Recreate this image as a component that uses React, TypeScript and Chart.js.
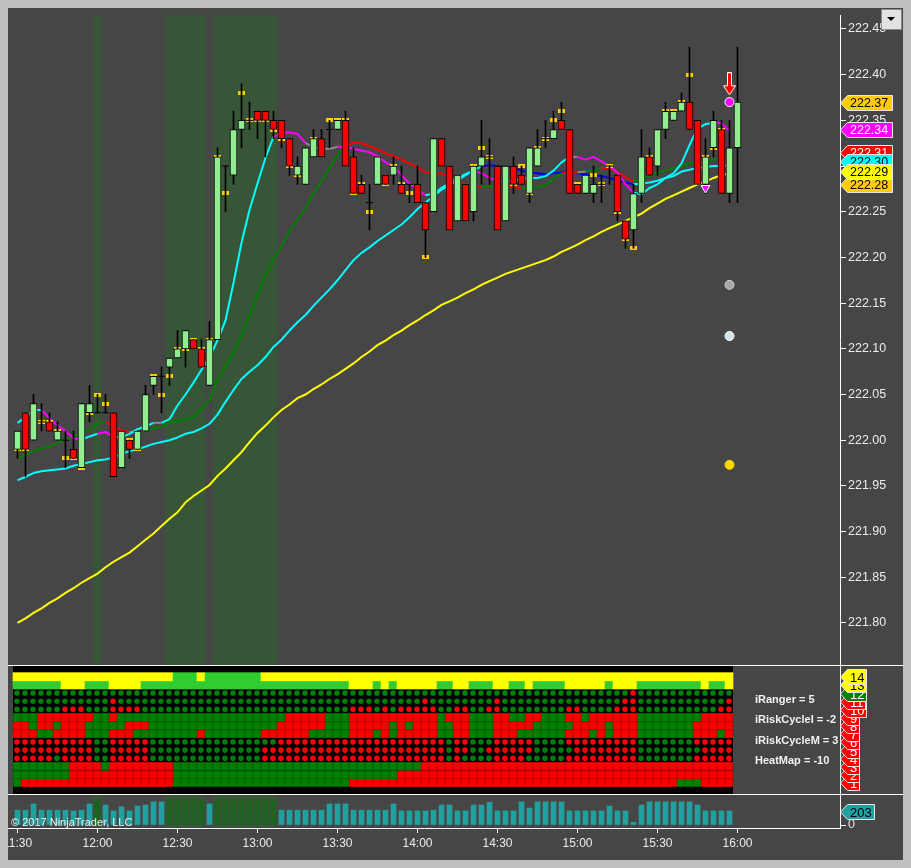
import React, { useEffect, useRef } from 'react';
import { Chart, registerables } from 'chart.js';

Chart.register(...registerables);

const FONT_FAMILY = '"Liberation Sans", Arial, Helvetica, sans-serif';
const TEXT_COLOR = '#ececec';

// ---------------- data: 3-minute candles (bar index 0 = 11:30) ----------------
const OPEN = [221.99,222.03,222.00,222.02,222.02,222.00,222.00,221.99,221.97,222.03,
 222.03,222.03,222.03,221.97,222.00,221.99,222.01,222.06,222.07,222.08,
 222.09,222.10,222.11,222.10,222.06,222.11,222.30,222.29,222.34,222.35,
 222.36,222.36,222.35,222.35,222.33,222.29,222.28,222.31,222.33,222.34,
 222.34,222.35,222.31,222.28,222.26,222.28,222.29,222.29,222.28,222.28,
 222.28,222.26,222.25,222.33,222.30,222.24,222.28,222.25,222.30,222.31,
 222.30,222.24,222.30,222.29,222.27,222.30,222.33,222.33,222.35,222.34,
 222.28,222.27,222.27,222.28,222.30,222.29,222.24,222.23,222.27,222.31,
 222.30,222.34,222.35,222.36,222.37,222.35,222.28,222.32,222.34,222.27,
 222.32];
const HIGH = [222.01,222.03,222.05,222.04,222.03,222.02,222.01,222.01,222.04,222.06,
 222.05,222.05,222.03,222.01,222.00,222.01,222.06,222.07,222.08,222.09,
 222.12,222.12,222.11,222.11,222.13,222.32,222.30,222.36,222.39,222.37,
 222.36,222.36,222.36,222.35,222.33,222.31,222.32,222.34,222.34,222.35,
 222.35,222.36,222.32,222.29,222.28,222.31,222.29,222.31,222.30,222.28,
 222.30,222.26,222.33,222.33,222.30,222.29,222.28,222.30,222.35,222.33,
 222.30,222.30,222.31,222.30,222.32,222.34,222.35,222.36,222.37,222.34,
 222.28,222.29,222.30,222.29,222.30,222.29,222.24,222.28,222.34,222.32,
 222.34,222.37,222.36,222.38,222.43,222.35,222.33,222.36,222.35,222.35,
 222.43];
const LOW = [221.98,221.96,222.00,222.01,222.01,222.00,221.97,221.98,221.97,222.02,
 222.03,222.03,221.96,221.97,221.98,221.99,222.01,222.05,222.03,222.06,
 222.09,222.08,222.10,222.08,222.06,222.11,222.25,222.28,222.32,222.34,
 222.33,222.31,222.33,222.32,222.29,222.28,222.28,222.31,222.31,222.32,
 222.34,222.30,222.27,222.27,222.23,222.28,222.28,222.28,222.27,222.26,
 222.26,222.20,222.25,222.30,222.23,222.24,222.24,222.24,222.28,222.28,
 222.23,222.24,222.27,222.28,222.26,222.30,222.32,222.33,222.34,222.27,
 222.27,222.27,222.26,222.26,222.28,222.24,222.21,222.21,222.26,222.29,
 222.29,222.33,222.35,222.36,222.34,222.28,222.27,222.31,222.27,222.26,
 222.26];
const CLOSE = [222.01,221.99,222.04,222.02,222.01,222.01,222.00,221.98,222.04,222.04,
 222.03,222.03,221.96,222.01,221.99,222.01,222.05,222.07,222.07,222.09,
 222.10,222.12,222.10,222.08,222.11,222.31,222.30,222.34,222.35,222.35,
 222.35,222.35,222.34,222.33,222.30,222.30,222.32,222.33,222.31,222.34,
 222.35,222.30,222.27,222.27,222.26,222.31,222.28,222.30,222.27,222.28,
 222.26,222.23,222.33,222.30,222.23,222.29,222.24,222.30,222.31,222.31,
 222.23,222.30,222.28,222.28,222.32,222.32,222.33,222.34,222.34,222.27,
 222.27,222.29,222.28,222.28,222.30,222.25,222.22,222.27,222.31,222.29,
 222.34,222.36,222.36,222.37,222.34,222.28,222.31,222.35,222.27,222.32,
 222.37];
// gold level markers per bar (null = none)
const GOLD_MARK = [221.99,221.99,null,222.02,222.02,222.01,221.98,221.98,221.97,222.03,
 222.05,222.04,null,null,222.00,221.99,null,222.07,222.05,222.07,
 222.10,222.10,222.11,222.10,222.11,222.31,222.27,null,222.38,222.35,
 222.35,222.35,222.34,222.33,222.30,222.29,null,222.33,null,222.35,
 222.35,222.35,222.27,222.28,222.25,null,222.28,222.30,222.28,222.27,
 null,222.20,null,null,null,null,null,222.30,222.32,222.31,
 null,null,222.28,222.30,222.27,222.32,222.33,222.35,222.36,null,
 222.28,null,222.29,222.28,222.30,222.25,222.22,222.21,null,222.31,
 null,222.36,222.36,222.37,222.40,null,222.31,222.32,222.34,null,
 null];

// indicator lines (bars 0..89)
const FAST = [222.019,222.025,222.033,222.033,222.024,222.016,222.010,222.002,222.001,222.004,
 222.007,222.009,222.004,222.003,222.007,222.012,222.015,222.019,222.019,222.023,
 222.038,222.050,222.063,222.077,222.091,222.109,222.131,222.172,222.216,222.252,
 222.281,222.309,222.332,222.336,222.337,222.335,222.325,222.321,222.319,222.319,
 222.321,222.321,222.319,222.317,222.315,222.311,222.304,222.300,222.290,222.281,
 222.274,222.268,222.270,222.276,222.281,222.287,222.291,222.295,222.292,222.287,
 222.284,222.283,222.284,222.286,222.287,222.287,222.289,222.295,222.304,222.310,
 222.310,222.307,222.310,222.305,222.300,222.293,222.280,222.271,222.269,222.276,
 222.280,222.287,222.292,222.303,222.323,222.341,222.346,222.347,222.347,222.338];
const FAST_STATE = 'c4 m5 c2 m2 c5 n1 c14 m4 n4 m11 c6 m5 c7 n1 m7 c10 m2';
const MID = [221.980,221.984,221.988,221.991,221.993,221.997,222.000,222.004,222.007,222.012,
 222.018,222.020,222.015,222.011,222.009,222.008,222.010,222.013,222.015,222.019,
 222.021,222.023,222.025,222.034,222.044,222.066,222.081,222.095,222.115,222.137,
 222.159,222.181,222.198,222.212,222.229,222.242,222.254,222.270,222.283,222.298,
 222.312,222.321,222.326,222.325,222.322,222.318,222.314,222.311,222.307,222.303,
 222.299,222.293,222.292,222.292,222.288,222.283,222.280,222.278,222.277,222.278,
 222.277,222.277,222.277,222.276,222.276,222.277,222.279,222.286,222.292,222.293,
 222.293,222.294,222.295,222.298,222.298,222.293,222.288,222.283,222.287,222.290,
 222.293,222.295,222.298,222.300,222.303,222.304,222.306,222.307,222.309,222.310];
const MID_STATE = 'g12 r3 n1 g26 r17 g2 r3 g5 r2 n1 g2 r4 g12';
const SLOW = [221.956,221.960,221.964,221.966,221.967,221.968,221.969,221.972,221.974,221.976,
 221.978,221.979,221.981,221.985,221.988,221.990,221.993,221.996,221.998,222.000,
 222.003,222.007,222.009,222.013,222.018,222.028,222.042,222.055,222.067,222.075,
 222.082,222.091,222.102,222.110,222.120,222.129,222.137,222.147,222.156,222.165,
 222.175,222.186,222.197,222.205,222.211,222.218,222.224,222.230,222.236,222.244,
 222.253,222.260,222.267,222.274,222.279,222.284,222.290,222.295,222.300,222.301,
 222.300,222.299,222.298,222.295,222.293,222.292,222.291,222.292,222.293,222.293,
 222.292,222.291,222.290,222.289,222.287,222.284,222.282,222.280,222.281,222.282,
 222.284,222.287,222.289,222.294,222.296,222.298,222.299,222.300,222.300,222.301];
const SLOW_STATE = 'c59 b19 c12';
const YELLOW = [221.800,221.805,221.811,221.816,221.822,221.827,221.833,221.838,221.844,221.849,
 221.854,221.861,221.867,221.872,221.877,221.884,221.891,221.898,221.906,221.914,
 221.921,221.932,221.939,221.945,221.951,221.961,221.969,221.978,221.987,221.998,
 222.008,222.016,222.025,222.033,222.039,222.046,222.050,222.056,222.061,222.067,
 222.072,222.078,222.084,222.091,222.097,222.104,222.109,222.115,222.120,222.126,
 222.131,222.137,222.142,222.148,222.152,222.156,222.161,222.165,222.170,222.174,
 222.178,222.182,222.185,222.188,222.191,222.194,222.197,222.201,222.206,222.210,
 222.214,222.219,222.223,222.228,222.232,222.236,222.240,222.244,222.248,222.254,
 222.259,222.264,222.268,222.272,222.276,222.280,222.283,222.287,222.290,222.292];

// signals
const SIGNAL_BAR = 89;
const SIGNAL_DOTS = [222.37, 222.17, 222.114, 221.973];
const ARROW_BAR = 89;
const ARROW_VALUE = 222.39;
const TRIANGLE_BAR = 86;
const TRIANGLE_VALUE = 222.276;

// highlighted bars (green background bands)
const BAND_BARS = [10, 19, 20, 21, 22, 23, 25, 26, 27, 28, 29, 30, 31, 32];

// axes
const PRICE_TICKS = [222.45,222.40,222.35,222.30,222.25,222.20,222.15,222.10,222.05,222.00,221.95,221.90,221.85,221.80];
const TIME_TICKS = [0, 10, 20, 30, 40, 50, 60, 70, 80, 90];
const TIME_LABELS = ['11:30','12:00','12:30','13:00','13:30','14:00','14:30','15:00','15:30','16:00'];

// price-axis markers
const TAG_VALUES = [222.31, 222.30, 222.28, 222.29, 222.37, 222.34];

// heat map rows (14 at top .. 1 at bottom), run-length: letter + count
const HEAT_14 = 'Y20 G3 Y1 G7 Y59';
const HEAT_13 = 'G6 Y3 G3 Y4 G26 Y3 G1 Y1 G1 Y5 G2 Y2 G3 Y2 G2 Y1 G4 Y5 G1 Y3 G8 Y1 G2 Y1';
const HEAT_12 = 'g77 r1 g12';
const HEAT_11 = 'g12 r1 g38 r1 g8 r1 g15 r2 g11 r1';
const HEAT_10 = 'g6 r3 g3 r4 g26 r3 g1 r1 g1 r5 g2 r2 g2 r2 g8 r2 g4 r3 g10 r2';
const HEAT_9 = 'g3 r7 g2 r1 g21 r5 g3 r11 g1 r3 g3 r2 g2 r2 g3 r2 g1 r6 g8 r4';
const HEAT_8 = 'r2 g1 r2 g1 r3 g5 r3 g16 r6 g3 r5 g1 r1 g1 r3 g2 r2 g3 r5 g5 r4 g1 r3 g7 r5';
const HEAT_7 = 'r3 g2 r4 g3 r3 g8 r1 g7 r6 g5 r3 g1 r1 g1 r5 g2 r2 g3 r3 g6 r3 g1 r1 g1 r3 g7 r3 g1 r1';
const HEAT_6 = 'r10 g2 r5 g16 r21 g1 r2 g3 r5 g4 r9 g7 r5';
const HEAT_5 = 'r10 g2 r5 g14 r23 g1 r2 g2 r6 g5 r8 g8 r4';
const HEAT_4 = 'r5 g1 r4 g2 r5 g14 r23 g1 r1 g4 r4 g5 r9 g7 r5';
const HEAT_3 = 'g7 r4 g1 r8 g31 r39';
const HEAT_2 = 'g7 r13 g28 r42';
const HEAT_1 = 'g1 r19 g22 r41 g3 r4';
const HEAT_LABELS = ['iRanger = 5', 'iRiskCycleI = -2', 'iRiskCycleM = 3', 'HeatMap = -10'];

// volume (bars 0..89)
const VOLUME = [215,215,305,215,215,215,215,203,215,305,
 360,290,203,265,203,275,290,335,335,350,
 350,350,350,350,305,350,350,350,350,350,
 350,350,350,215,215,215,215,215,215,305,
 305,305,215,215,215,215,215,305,203,203,
 203,203,215,290,290,203,203,290,290,330,
 203,203,203,335,245,335,335,335,335,203,
 203,203,203,203,275,203,203,40,290,335,
 335,335,335,335,335,290,203,203,203,203];

const COPYRIGHT = '\u00A9 2017 NinjaTrader, LLC';

// ---------------- styles ----------------
const BAND_COLOR = '#375637';
const UP_FILL = '#90ee90';
const DOWN_FILL = '#ff0000';
const FAST_PALETTE: Record<string, string> = { c: '#00ffff', m: '#ff00ff', n: '#8a8a8a' };
const MID_PALETTE: Record<string, string> = { g: '#008000', r: '#ff0000', n: '#8a8a8a' };
const SLOW_PALETTE: Record<string, string> = { c: '#00ffff', b: '#0000ff' };
const HEAT_FILL: Record<string, string> = { Y: '#ffff00', G: '#32cd32', g: '#008000', r: '#ff0000' };
const HEAT_EDGE: Record<string, string> = { Y: '#ffff00', G: '#32cd32', g: '#006400', r: '#c80000' };
const TAG_STYLES = [
  { bg: '#ff0000', fg: '#ffffff', dy: -4 },
  { bg: '#00ffff', fg: '#000000', dy: -5 },
  { bg: '#ffcc00', fg: '#000000', dy: 0 },
  { bg: '#ffff00', fg: '#000000', dy: -4 },
  { bg: '#ffcc00', fg: '#000000', dy: 0 },
  { bg: '#ff00ff', fg: '#ffffff', dy: 0 },
];
const DOT_FILL = ['#ff00ff', '#a8a8a8', '#cfe4ec', '#ffd700'];
const DOT_EDGE = ['#ffffff', '#d0d0d0', '#ffffff', '#ffd700'];

const PRICE_MIN = 221.754;
const PRICE_MAX = 222.4653;
const X_MIN_BARS = -1.1875;
const X_MAX_BARS = 102.8125;
const HEAT_X_MIN = -1.125;
const HEAT_X_MAX = 102.875;
const HEAT_Y_MIN = -0.3865;
const HEAT_Y_MAX = 15.319;
const VOL_Y_MIN = -43.5;
const VOL_Y_MAX = 435;

function runs(spec: string): string[] {
  const out: string[] = [];
  spec.trim().split(/\s+/).forEach((tok) => {
    const c = tok[0];
    const n = parseInt(tok.slice(1), 10);
    for (let k = 0; k < n; k++) out.push(c);
  });
  return out;
}

function noPad(s: any) {
  s.paddingLeft = 0;
  s.paddingRight = 0;
  s.paddingTop = 0;
  s.paddingBottom = 0;
}

function drawTag(ctx: CanvasRenderingContext2D, x: number, y: number, text: string, bg: string, fg: string, fontSize: number, pad: number) {
  ctx.save();
  ctx.font = `${fontSize}px ${FONT_FAMILY}`;
  const tw = ctx.measureText(text).width;
  const w = Math.round(tw + pad);
  const h = 15;
  const top = Math.round(y - h / 2) + 0.5;
  const bot = top + h;
  const mid = (top + bot) / 2;
  ctx.beginPath();
  ctx.moveTo(x + 0.5, mid);
  ctx.lineTo(x + 7.5, top);
  ctx.lineTo(x + w + 0.5, top);
  ctx.lineTo(x + w + 0.5, bot);
  ctx.lineTo(x + 7.5, bot);
  ctx.closePath();
  ctx.fillStyle = bg;
  ctx.fill();
  ctx.strokeStyle = '#e6e6e6';
  ctx.lineWidth = 1;
  ctx.stroke();
  ctx.fillStyle = fg;
  ctx.textAlign = 'left';
  ctx.textBaseline = 'middle';
  ctx.fillText(text, x + 10, mid + 1);
  ctx.restore();
}

function bandPlugin(bottomOffset: (chart: any) => number) {
  return {
    id: 'bands',
    beforeDatasetsDraw(chart: any) {
      const { ctx, chartArea, scales } = chart;
      const x = scales.x;
      ctx.save();
      ctx.fillStyle = BAND_COLOR;
      const bottom = bottomOffset(chart);
      BAND_BARS.forEach((i) => {
        const l = Math.floor(x.getPixelForValue(i - 0.5));
        const r = Math.floor(x.getPixelForValue(i + 0.5));
        ctx.fillRect(l, chartArea.top, r - l, bottom - chartArea.top);
      });
      ctx.restore();
    },
  };
}

function makeGoldMark() {
  const c = document.createElement('canvas');
  c.width = 7;
  c.height = 4;
  const g = c.getContext('2d')!;
  g.fillStyle = '#ffcc00';
  g.fillRect(0, 0, 7, 4);
  return c;
}

function makeArrow() {
  const c = document.createElement('canvas');
  c.width = 13;
  c.height = 23;
  const g = c.getContext('2d')!;
  g.beginPath();
  g.moveTo(4.5, 0.5);
  g.lineTo(8.5, 0.5);
  g.lineTo(8.5, 13.5);
  g.lineTo(12.5, 13.5);
  g.lineTo(6.5, 22.5);
  g.lineTo(0.5, 13.5);
  g.lineTo(4.5, 13.5);
  g.closePath();
  g.fillStyle = '#ff0000';
  g.fill();
  g.strokeStyle = '#ffffff';
  g.lineWidth = 1;
  g.stroke();
  return c;
}

function lineDataset(values: number[], state: string, palette: Record<string, string>, order: number) {
  const cols = runs(state);
  return {
    type: 'line',
    data: values.map((v, i) => ({ x: i, y: v })),
    borderColor: palette[cols[0]],
    borderWidth: 2,
    pointRadius: 0,
    tension: 0,
    fill: false,
    borderJoinStyle: 'round',
    order,
    segment: { borderColor: (ctx: any) => palette[cols[ctx.p1DataIndex]] },
  };
}

const baseOptions = () => ({
  responsive: false,
  maintainAspectRatio: false,
  animation: false,
  events: [],
  plugins: { legend: { display: false }, tooltip: { enabled: false } },
});

function priceConfig(): any {
  const wicks: any[] = [];
  const bodies: any[] = [];
  const bodyFill: string[] = [];
  const dojis: any[] = [];
  OPEN.forEach((o, i) => {
    const c = CLOSE[i];
    wicks.push({ x: i, y: [LOW[i], HIGH[i]] });
    if (Math.abs(o - c) < 1e-9) dojis.push({ x: i, y: o });
    else {
      bodies.push({ x: i, y: [Math.min(o, c), Math.max(o, c)] });
      bodyFill.push(c > o ? UP_FILL : DOWN_FILL);
    }
  });
  const marks: any[] = [];
  GOLD_MARK.forEach((v, i) => { if (v !== null) marks.push({ x: i, y: v }); });
  const gold = makeGoldMark();
  const arrow = makeArrow();

  return {
    type: 'bar',
    data: {
      datasets: [
        {
          type: 'scatter', order: 0,
          data: SIGNAL_DOTS.map((v) => ({ x: SIGNAL_BAR, y: v })),
          pointRadius: 4.5, pointBackgroundColor: DOT_FILL, pointBorderColor: DOT_EDGE, pointBorderWidth: 1,
        },
        {
          type: 'scatter', order: 0,
          data: [{ x: ARROW_BAR, y: ARROW_VALUE }],
          pointStyle: arrow, pointRadius: 6,
        },
        {
          type: 'scatter', order: 0,
          data: [{ x: TRIANGLE_BAR, y: TRIANGLE_VALUE }],
          pointStyle: 'triangle', rotation: 180, pointRadius: 5,
          pointBackgroundColor: '#ff00ff', pointBorderColor: '#ffffff', pointBorderWidth: 1,
        },
        {
          type: 'bar', order: 1, data: bodies, backgroundColor: bodyFill,
          borderColor: '#000000', borderWidth: 1, borderSkipped: false,
          barThickness: 7, grouped: false,
        },
        {
          type: 'scatter', order: 2, data: dojis, pointStyle: 'line', pointRadius: 3.5,
          pointBorderColor: '#000000', pointBorderWidth: 1,
        },
        {
          type: 'bar', order: 3, data: wicks, backgroundColor: '#000000', borderWidth: 0,
          barThickness: 1, grouped: false,
        },
        {
          type: 'scatter', order: 4, data: marks, pointStyle: gold, pointRadius: 3,
        },
        lineDataset(FAST, FAST_STATE, FAST_PALETTE, 5),
        lineDataset(MID, MID_STATE, MID_PALETTE, 6),
        lineDataset(SLOW, SLOW_STATE, SLOW_PALETTE, 7),
        {
          type: 'line', order: 8, data: YELLOW.map((v, i) => ({ x: i, y: v })),
          borderColor: '#ffff00', borderWidth: 2, pointRadius: 0, tension: 0, fill: false,
        },
      ],
    },
    options: {
      ...baseOptions(),
      layout: { padding: { top: 7, bottom: 0, left: 0, right: 0 }, autoPadding: false },
      scales: {
        x: { type: 'linear', min: X_MIN_BARS, max: X_MAX_BARS, display: false, offset: false, grid: { offset: false } },
        y: {
          type: 'linear', position: 'right', min: PRICE_MIN, max: PRICE_MAX,
          afterFit: (s: any) => { s.width = 63; noPad(s); },
          afterBuildTicks: (s: any) => { s.ticks = PRICE_TICKS.map((v) => ({ value: v })); },
          ticks: {
            color: TEXT_COLOR, padding: 2, font: { family: FONT_FAMILY, size: 12.5 },
            callback: (v: any) => Number(v).toFixed(2),
          },
          grid: { drawOnChartArea: false, drawTicks: true, tickLength: 6, color: '#ffffff' },
          border: { display: true, color: '#ffffff', width: 1 },
        },
      },
    },
    plugins: [
      bandPlugin((chart: any) => chart.chartArea.bottom),
      {
        id: 'priceExtras',
        afterDraw(chart: any) {
          const { ctx, chartArea, scales } = chart;
          const y = scales.y;
          TAG_VALUES.forEach((v, i) => {
            const st = TAG_STYLES[i];
            drawTag(ctx, chartArea.right, y.getPixelForValue(v) + st.dy, v.toFixed(2), st.bg, st.fg, 12.5, 14);
          });
          // drop-down button
          ctx.save();
          ctx.fillStyle = '#e2e2e2';
          ctx.fillRect(873, 1, 21, 21);
          ctx.strokeStyle = '#8c8c8c';
          ctx.lineWidth = 1;
          ctx.strokeRect(873.5, 1.5, 20, 20);
          ctx.fillStyle = '#000000';
          ctx.beginPath();
          ctx.moveTo(879, 9);
          ctx.lineTo(887, 9);
          ctx.lineTo(883, 13);
          ctx.closePath();
          ctx.fill();
          ctx.restore();
        },
      },
    ],
  };
}

function heatConfig(): any {
  const rows = [
    { k: 14, kind: 'band', spec: HEAT_14 },
    { k: 13, kind: 'band', spec: HEAT_13 },
    { k: 12, kind: 'dot', spec: HEAT_12 },
    { k: 11, kind: 'dot', spec: HEAT_11 },
    { k: 10, kind: 'dot', spec: HEAT_10 },
    { k: 9, kind: 'cell', spec: HEAT_9 },
    { k: 8, kind: 'cell', spec: HEAT_8 },
    { k: 7, kind: 'cell', spec: HEAT_7 },
    { k: 6, kind: 'dot', spec: HEAT_6 },
    { k: 5, kind: 'dot', spec: HEAT_5 },
    { k: 4, kind: 'dot', spec: HEAT_4 },
    { k: 3, kind: 'cell', spec: HEAT_3 },
    { k: 2, kind: 'cell', spec: HEAT_2 },
    { k: 1, kind: 'cell', spec: HEAT_1 },
  ];
  const decoded = rows.map((r) => ({ ...r, cols: runs(r.spec) }));
  const datasets = decoded.map((r) => {
    if (r.kind === 'dot') {
      return {
        type: 'scatter',
        data: r.cols.map((_, i) => ({ x: i, y: r.k })),
        pointRadius: 2.8,
        pointBackgroundColor: r.cols.map((c) => HEAT_FILL[c]),
        pointBorderWidth: 0,
      };
    }
    return {
      type: 'bar',
      data: r.cols.map((_, i) => ({ x: i, y: [r.k - 0.5, r.k + 0.5] })),
      backgroundColor: r.cols.map((c) => HEAT_FILL[c]),
      borderColor: r.cols.map((c) => HEAT_EDGE[c]),
      borderWidth: r.kind === 'cell' ? 1 : 0,
      borderSkipped: false,
      barThickness: 8,
      grouped: false,
    };
  });
  return {
    type: 'bar',
    data: { datasets },
    options: {
      ...baseOptions(),
      layout: { padding: 0, autoPadding: false },
      scales: {
        x: { type: 'linear', min: HEAT_X_MIN, max: HEAT_X_MAX, display: false, offset: false, grid: { offset: false } },
        y: {
          type: 'linear', position: 'right', min: HEAT_Y_MIN, max: HEAT_Y_MAX,
          afterFit: (s: any) => { s.width = 63; noPad(s); },
          ticks: { display: false },
          grid: { drawOnChartArea: false, drawTicks: false },
          border: { display: true, color: '#ffffff', width: 1 },
        },
      },
    },
    plugins: [
      {
        id: 'heatBg',
        beforeDatasetsDraw(chart: any) {
          const { ctx, chartArea, scales } = chart;
          const l = scales.x.getPixelForValue(-0.5);
          const r = scales.x.getPixelForValue(VOLUME.length - 0.5);
          ctx.save();
          ctx.fillStyle = '#000000';
          ctx.fillRect(l, chartArea.top, r - l, chartArea.bottom - chartArea.top);
          ctx.restore();
        },
        afterDraw(chart: any) {
          const { ctx, chartArea, scales } = chart;
          ctx.save();
          ctx.fillStyle = '#f2f2f2';
          ctx.font = `bold 11px ${FONT_FAMILY}`;
          ctx.textAlign = 'left';
          ctx.textBaseline = 'middle';
          HEAT_LABELS.forEach((t, i) => ctx.fillText(t, 747, 34 + i * 20.3));
          ctx.restore();
          const bottomUp = [...decoded].sort((a, b) => a.k - b.k);
          bottomUp.forEach((r) => {
            const last = r.cols[r.cols.length - 1];
            const bg = HEAT_FILL[last];
            const fg = last === 'Y' || last === 'G' ? '#000000' : '#ffffff';
            drawTag(ctx, chartArea.right, scales.y.getPixelForValue(r.k), String(r.k), bg, fg, 13, 12);
          });
        },
      },
    ],
  };
}

function volumeConfig(): any {
  const bandSet = new Set(BAND_BARS);
  return {
    type: 'bar',
    data: {
      datasets: [
        {
          type: 'bar',
          data: VOLUME.map((v, i) => ({ x: i, y: v })),
          backgroundColor: VOLUME.map((_, i) => (bandSet.has(i) ? '#1f611f' : '#21a0a0')),
          borderWidth: 0,
          barThickness: 5,
          grouped: false,
        },
      ],
    },
    options: {
      ...baseOptions(),
      layout: { padding: 0, autoPadding: false },
      scales: {
        x: {
          type: 'linear', position: 'bottom', min: X_MIN_BARS, max: X_MAX_BARS, offset: false,
          afterFit: (s: any) => { s.height = 32; noPad(s); },
          afterBuildTicks: (s: any) => { s.ticks = TIME_TICKS.map((v) => ({ value: v })); },
          ticks: {
            color: TEXT_COLOR, padding: 3, autoSkip: false, maxRotation: 0, minRotation: 0,
            font: { family: FONT_FAMILY, size: 12 },
            callback: (_v: any, idx: number) => TIME_LABELS[idx],
          },
          grid: { offset: false, drawOnChartArea: false, drawTicks: true, tickLength: 5, color: '#ffffff' },
          border: { display: true, color: '#ffffff', width: 1 },
        },
        y: {
          type: 'linear', position: 'right', min: VOL_Y_MIN, max: VOL_Y_MAX,
          afterFit: (s: any) => { s.width = 63; noPad(s); },
          afterBuildTicks: (s: any) => { s.ticks = [{ value: 0 }]; },
          ticks: { color: TEXT_COLOR, padding: 2, font: { family: FONT_FAMILY, size: 12.5 }, callback: () => '0' },
          grid: { drawOnChartArea: false, drawTicks: true, tickLength: 6, color: '#ffffff' },
          border: { display: true, color: '#ffffff', width: 1 },
        },
      },
    },
    plugins: [
      bandPlugin((chart: any) => chart.scales.y.getPixelForValue(0) + 2),
      {
        id: 'volExtras',
        afterDatasetsDraw(chart: any) {
          const { ctx } = chart;
          ctx.save();
          ctx.fillStyle = '#f0f0f0';
          ctx.font = `11px ${FONT_FAMILY}`;
          ctx.textAlign = 'left';
          ctx.textBaseline = 'alphabetic';
          ctx.fillText(COPYRIGHT, 3, 31);
          ctx.restore();
        },
        afterDraw(chart: any) {
          const { ctx, chartArea, scales } = chart;
          const last = VOLUME[VOLUME.length - 1];
          drawTag(ctx, chartArea.right, scales.y.getPixelForValue(last), String(last), '#21a0a0', '#000000', 13, 12);
        },
      },
    ],
  };
}

export default function App() {
  const priceRef = useRef<HTMLCanvasElement>(null);
  const heatRef = useRef<HTMLCanvasElement>(null);
  const volRef = useRef<HTMLCanvasElement>(null);

  useEffect(() => {
    Chart.defaults.font.family = FONT_FAMILY;
    const charts = [
      new Chart(priceRef.current as HTMLCanvasElement, priceConfig()),
      new Chart(heatRef.current as HTMLCanvasElement, heatConfig()),
      new Chart(volRef.current as HTMLCanvasElement, volumeConfig()),
    ];
    return () => charts.forEach((c) => c.destroy());
  }, []);

  const abs = (left: number, top: number): React.CSSProperties => ({ position: 'absolute', left, top });

  return (
    <div style={{ position: 'fixed', left: 0, top: 0, width: 911, height: 868, background: '#c0c0c0', overflow: 'hidden' }}>
      <div style={{ ...abs(8, 8), width: 895, height: 852, background: '#464646' }} />
      <canvas ref={priceRef} width={895} height={657} style={abs(8, 8)} />
      <div style={{ ...abs(8, 665), width: 895, height: 1, background: '#ffffff' }} />
      <canvas ref={heatRef} width={895} height={128} style={abs(8, 666)} />
      <div style={{ ...abs(8, 794), width: 895, height: 1, background: '#ffffff' }} />
      <canvas ref={volRef} width={895} height={65} style={abs(8, 795)} />
    </div>
  );
}
